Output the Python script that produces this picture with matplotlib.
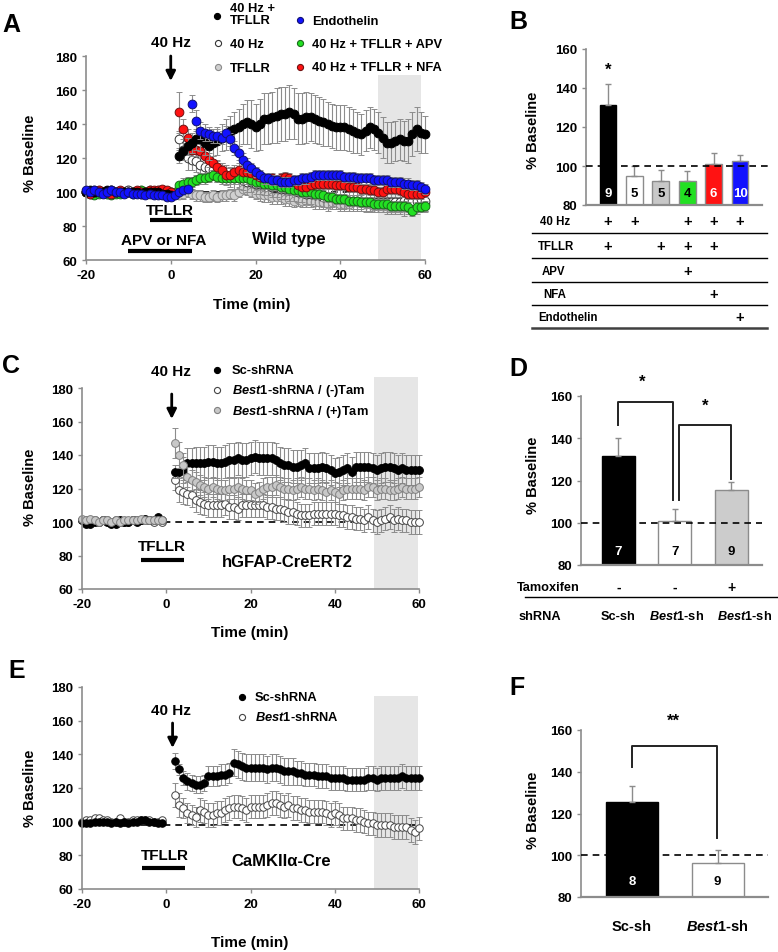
import numpy as np
import matplotlib
matplotlib.use('Agg')
import matplotlib.pyplot as plt
from matplotlib.lines import Line2D
from matplotlib.patches import Rectangle
from matplotlib import transforms

nan = np.nan

# ---------------- panel A (wild type, 1-min bins) ----------------
a_t_base = np.arange(-20, 1)      # -20 .. 0
a_t_post = np.arange(1, 61)       # 1 .. 60
a_base_err = [1, 1, 1, 1, 1, 1, 1, 1, 1, 1, 1, 1, 1, 1, 1, 1, 1, 1, 1, 1, 1]

a_black_base = [100, 101, 100, 100, 100, 101, 101, 100, 100, 100, 100, 100, 100, 99, 100, 100, 100, 100, 99, 99, 98]
a_black_post = [nan, 121, 124, 127, 129, 131, 131, 129, 127, 129,
                130, 132, 134, 136, 137, 138, 140, 141, 140, 138,
                140, 143, 143, 144, 145, 146, 146, 147, 146, 143,
                143, 144, 144, 143, 142, 141, 140, 139, 138, 138,
                138, 137, 136, 135, 134, 136, 138, 137, 135, 132,
                129, 129, 130, 131, 130, 130, 134, 137, 135, 134]
a_black_err = [nan, 4, 5, 5, 6, 6, 7, 7, 8, 8,
               8, 8, 9, 9, 10, 11, 12, 13, 14, 14,
               15, 15, 15, 15, 16, 16, 16, 16, 15, 15,
               15, 15, 14, 14, 14, 14, 13, 13, 13, 13,
               13, 13, 13, 12, 12, 12, 12, 12, 12, 12,
               12, 12, 12, 12, 12, 13, 13, 13, 12, 11]

a_white_base = [100, 100, 101, 100, 100, 100, 101, 100, 100, 100, 101, 100, 100, 100, 100, 101, 100, 100, 100, 100, 100]
a_white_post = [nan, 131, 125, 120, 119, 118, 116, 115, 114, 113,
                112, 111, 110, 109, 108, 108, 107, 106, 106, 105,
                105, 104, 104, 103, 103, 102, 102, 101, 101, 100,
                100, 99, 99, 98, 98, 97, 97, 97, 96, 96,
                96, 95, 95, 95, 95, 94, 94, 94, 94, 94,
                94, 94, 94, 94, 95, 95, 95, 95, 96, 95]
a_white_err = [nan, 5, 5, 7, 6, 6, 6, 6, 6, 6,
               6, 6, 6, 6, 6, 6, 6, 6, 6, 6,
               6, 6, 6, 6, 6, 6, 6, 6, 6, 6,
               6, 6, 6, 6, 6, 6, 6, 6, 6, 6,
               6, 6, 6, 6, 6, 6, 6, 6, 6, 6,
               6, 6, 6, 6, 6, 6, 6, 6, 6, 6]

a_gray_base = [100, 100, 100, 101, 100, 99, 100, 100, 100, 100, 101, 100, 100, 101, 100, 100, 100, 101, 100, 100, 99]
a_gray_post = [99, 98, 99, 100, 99, 98, 98, 97, 97, 98,
               97, 98, 98, 99, 98, 100, 102, 101, 100, 99,
               99, 98, 98, 97, 97, 97, 96, 96, 95, 96,
               95, 95, 95, 94, 94, 94, 93, 94, 94, 93,
               93, 93, 94, 94, 94, 93, 93, 92, 92, 92,
               92, 92, 92, 92, 91, 92, 92, 92, 93, 93]
a_gray_err = [2, 2, 3, 3, 3, 3, 3, 3, 3, 3,
              3, 3, 3, 3, 3, 3, 3, 3, 3, 3,
              4, 4, 4, 4, 4, 4, 4, 4, 4, 4,
              4, 4, 4, 4, 4, 4, 4, 4, 4, 4,
              4, 4, 4, 4, 4, 4, 4, 4, 4, 4,
              5, 5, 5, 5, 5, 5, 5, 5, 5, 5]

a_green_base = [100, 99, 98, 99, 100, 99, 98, 99, 99, 100, 100, 99, 100, 101, 100, 100, 99, 100, 99, 99, 100]
a_green_post = [100, 104, 105, 106, 106, 107, 108, 108, 109, 110,
                109, 108, 108, 108, 108, 108, 108, 108, 107, 106,
                106, 105, 105, 104, 104, 103, 103, 102, 101, 101,
                100, 100, 100, 99, 99, 98, 97, 97, 96, 96,
                96, 95, 95, 95, 94, 94, 94, 93, 93, 93,
                93, 92, 92, 92, 92, 91, 89, 91, 91, 92]
a_green_err = [2, 2, 3, 3, 3, 3, 3, 3, 3, 3,
               3, 3, 3, 3, 3, 3, 3, 3, 3, 3,
               3, 3, 3, 3, 3, 3, 3, 3, 3, 3,
               3, 3, 3, 3, 3, 3, 3, 3, 3, 3,
               3, 3, 3, 3, 3, 3, 3, 3, 3, 3,
               3, 3, 3, 3, 3, 3, 3, 3, 3, 3]

a_red_base = [100, 99, 100, 101, 100, 100, 99, 100, 101, 100, 100, 100, 101, 100, 100, 101, 101, 101, 102, 101, 100]
a_red_post = [nan, 147, 137, 132, 125, 125, 124, 121, 119, 117,
              115, 113, 110, 110, 112, 113, 112, 112, 111, 110,
              109, 108, 108, 108, 107, 108, 109, 108, 107, 104,
              103, 103, 104, 105, 105, 105, 105, 105, 104, 104,
              104, 103, 103, 103, 102, 102, 101, 101, 100, 100,
              102, 102, 102, 101, 100, 99, 99, 99, 99, 100]
a_red_err = [nan, 12, 6, 5, 4, 4, 4, 4, 4, 4,
             4, 4, 4, 4, 4, 4, 4, 4, 3, 3,
             3, 3, 3, 3, 3, 3, 3, 3, 3, 3,
             3, 3, 3, 3, 3, 3, 3, 3, 3, 3,
             3, 3, 3, 3, 3, 3, 3, 3, 3, 3,
             3, 3, 3, 3, 3, 3, 3, 3, 3, 3]

a_blue_base = [101, 100, 101, 100, 99, 100, 101, 100, 100, 99, 100, 99, 99, 99, 98, 99, 98, 98, 98, 97, 97]
a_blue_post = [98, 100, 101, 102, 152, 142, 136, 135, 134, 133,
               133, 132, 135, 131, 126, 123, 119, 116, 114, 112,
               110, 108, 108, 107, 107, 106, 106, 106, 107, 107,
               108, 108, 109, 110, 110, 110, 110, 110, 110, 110,
               109, 109, 109, 108, 108, 108, 108, 107, 107, 107,
               107, 106, 106, 106, 105, 105, 104, 104, 103, 102]
a_blue_err = [1, 1, 1, 1, 5, 6, 5, 5, 4, 4,
              4, 4, 4, 4, 4, 4, 4, 4, 3, 3,
              3, 3, 3, 3, 3, 3, 3, 3, 3, 3,
              3, 3, 3, 3, 3, 3, 3, 3, 3, 3,
              3, 3, 3, 3, 3, 3, 3, 3, 3, 3,
              3, 3, 3, 3, 3, 3, 3, 3, 3, 3]

# ---------------- panel B ----------------
b_vals = [131.5, 95, 92.5, 92.5, 101, 102.5]
b_err = [10.6, 5.2, 5.6, 5.1, 5.7, 3.2]
b_n = ['9', '5', '5', '4', '6', '10']
b_colors = ['black', 'white', '#c8c8c8', '#22e022', '#ff1212', '#1212ff']
b_n_colors = ['white', 'black', 'black', 'black', 'white', 'white']
b_rows = ['40 Hz', 'TFLLR', 'APV', 'NFA', 'Endothelin']
b_plus = [[0, 1, 3, 4, 5], [0, 2, 3, 4], [3], [4], [5]]

# ---------------- panel C (hGFAP-CreERT2) ----------------
c_t_base = np.arange(-20, 0)      # -20 .. -1
c_t_post = np.arange(2, 61)       # 2 .. 60
c_base_err = [1, 1, 1, 1, 1, 1, 1, 1, 1, 1, 1, 1, 1, 1, 1, 1, 1, 1, 1, 1]

c_black_base = [101, 99, 99, 100, 100, 101, 100, 99, 99, 101, 100, 100, 101, 100, 101, 102, 101, 101, 103, 101]
c_black_post = [130, 130, 131, 135, 135, 135, 135, 135, 136, 136,
                135, 135, 136, 137, 137, 138, 137, 137, 138, 139,
                138, 138, 138, 138, 137, 135, 134, 134, 133, 133,
                134, 135, 132, 132, 132, 133, 132, 131, 129, 130,
                131, 132, 130, 133, 133, 133, 133, 132, 131, 132,
                133, 133, 132, 131, 132, 131, 131, 131, 131]
c_black_err = [4, 4, 8, 9, 9, 10, 10, 10, 10, 10,
               10, 10, 10, 10, 10, 10, 10, 10, 10, 10,
               10, 10, 10, 10, 10, 10, 10, 10, 10, 10,
               9, 9, 9, 9, 9, 9, 9, 9, 9, 9,
               9, 9, 9, 9, 9, 9, 9, 9, 9, 9,
               9, 9, 9, 9, 9, 9, 9, 9, 9]

c_white_base = [101, 101, 101, 101, 100, 101, 101, 100, 101, 100, 100, 100, 101, 101, 101, 101, 101, 100, 101, 100]
c_white_post = [125, 119, 118, 117, 116, 113, 112, 111, 110, 110,
                110, 110, 111, 109, 109, 108, 110, 110, 110, 110,
                110, 110, 109, 109, 108, 108, 107, 106, 106, 105,
                104, 104, 104, 105, 105, 105, 105, 105, 105, 104,
                104, 103, 103, 102, 102, 101, 103, 101, 100, 101,
                102, 103, 101, 102, 101, 101, 100, 100, 100]
c_white_err = [6, 7, 7, 7, 7, 7, 7, 7, 7, 7,
               7, 7, 7, 7, 7, 7, 7, 7, 7, 7,
               7, 7, 7, 7, 7, 7, 7, 7, 7, 7,
               7, 7, 7, 7, 7, 7, 7, 7, 7, 7,
               7, 7, 7, 7, 7, 7, 7, 7, 7, 7,
               7, 7, 7, 7, 7, 7, 7, 7, 7]

c_gray_base = [102, 101, 102, 101, 100, 101, 101, 100, 101, 100, 101, 101, 101, 101, 102, 101, 101, 101, 101, 101]
c_gray_post = [147, 140, 134, 127, 125, 124, 122, 121, 120, 121,
               120, 119, 119, 120, 120, 121, 120, 119, 119, 117,
               118, 120, 121, 121, 122, 121, 120, 120, 119, 120,
               121, 120, 120, 119, 120, 119, 118, 119, 118, 117,
               119, 120, 120, 120, 120, 119, 121, 121, 119, 120,
               120, 119, 119, 120, 121, 120, 120, 120, 121]
c_gray_err = [9, 8, 7, 6, 6, 6, 6, 6, 6, 6,
              6, 6, 6, 6, 6, 6, 6, 6, 6, 6,
              6, 6, 6, 6, 6, 6, 6, 6, 6, 6,
              6, 6, 6, 6, 6, 6, 6, 6, 6, 6,
              6, 6, 6, 6, 6, 6, 6, 6, 6, 6,
              6, 6, 6, 6, 6, 6, 6, 6, 6]

# ---------------- panel D ----------------
d_vals = [131.5, 100.8, 115.6]
d_err = [8.6, 5.6, 3.8]
d_n = ['7', '7', '9']
d_colors = ['black', 'white', '#cccccc']
d_n_colors = ['white', 'black', 'black']
d_tamoxifen = ['-', '-', '+']
d_shrna = ['Sc-sh', r'$\it{Best1}$-sh', r'$\it{Best1}$-sh']

# ---------------- panel E (CaMKIIa-Cre) ----------------
e_t_base = np.arange(-20, 0)
e_t_post = np.arange(2, 61)
e_base_err = [1, 1, 1, 1, 1, 1, 1, 1, 1, 1, 1, 1, 1, 1, 1, 1, 1, 1, 1, 1]

e_black_base = [99, 99, 99, 100, 100, 100, 100, 99, 100, 99, 100, 99, 100, 100, 101, 101, 100, 100, 99, 99]
e_black_post = [136, 131, 126, 124, 123, 122, 122, 123, 127, 127,
                127, 128, 128, 129, 135, 134, 133, 132, 132, 132,
                132, 132, 131, 132, 132, 131, 130, 130, 130, 129,
                129, 128, 128, 128, 127, 127, 127, 126, 126, 126,
                126, 125, 125, 125, 125, 125, 126, 126, 125, 126,
                126, 126, 126, 126, 127, 126, 126, 126, 126]
e_black_err = [5, 3, 4, 5, 5, 5, 5, 5, 6, 6,
               6, 6, 6, 6, 8, 8, 8, 8, 8, 8,
               8, 8, 8, 8, 8, 8, 8, 8, 8, 7,
               7, 7, 7, 7, 7, 7, 7, 7, 7, 7,
               7, 7, 7, 7, 7, 7, 7, 7, 7, 7,
               7, 7, 7, 7, 7, 7, 7, 7, 7]

e_white_base = [100, 101, 101, 102, 102, 101, 101, 100, 100, 102, 100, 100, 101, 101, 101, 101, 101, 100, 100, 101]
e_white_post = [116, 110, 108, 105, 104, 103, 107, 106, 104, 104,
                105, 105, 107, 108, 109, 109, 108, 107, 109, 109,
                109, 109, 110, 111, 111, 110, 109, 110, 108, 108,
                107, 107, 106, 106, 106, 106, 105, 104, 105, 104,
                102, 102, 102, 101, 101, 100, 99, 99, 98, 98,
                98, 98, 97, 97, 97, 97, 95, 94, 96]
e_white_err = [7, 7, 6, 6, 6, 6, 7, 7, 7, 7,
               7, 7, 7, 7, 7, 7, 7, 7, 7, 7,
               7, 7, 7, 7, 7, 7, 7, 7, 7, 7,
               7, 7, 7, 7, 7, 7, 7, 7, 7, 7,
               7, 7, 7, 7, 7, 7, 7, 7, 7, 7,
               7, 7, 7, 7, 7, 7, 7, 7, 7]

# ---------------- panel F ----------------
f_vals = [125.7, 96.1]
f_err = [7.3, 6.4]
f_n = ['8', '9']
f_colors = ['black', 'white']
f_n_colors = ['white', 'black']
f_labels = ['Sc-sh', r'$\it{Best1}$-sh']

# ---------------- style ----------------
plt.rcParams['font.family'] = ['Liberation Sans', 'DejaVu Sans']
plt.rcParams['font.weight'] = 'bold'
plt.rcParams['axes.unicode_minus'] = False
plt.rcParams['mathtext.fontset'] = 'custom'
plt.rcParams['mathtext.it'] = 'Liberation Sans:italic:bold'
plt.rcParams['mathtext.rm'] = 'Liberation Sans:bold'
plt.rcParams['mathtext.bf'] = 'Liberation Sans:bold'

W, H = 778, 953
SPINE = '#8c8c8c'
ECOL = '#8c8c8c'
SHADE = '#e6e6e6'

fig = plt.figure(figsize=(W / 100, H / 100), dpi=100)
fig.patch.set_facecolor('white')


def fx(px):
    return px / W


def fy(py):
    return 1 - py / H


def add_ax(l, t, r, b):
    return fig.add_axes([l / W, 1 - b / H, (r - l) / W, (b - t) / H])


def style(ax):
    for s in ('top', 'right'):
        ax.spines[s].set_visible(False)
    for s in ('left', 'bottom'):
        ax.spines[s].set_color(SPINE)
        ax.spines[s].set_linewidth(1.2)
    ax.tick_params(colors=SPINE, labelcolor='black', labelsize=9.5,
                   length=3, width=1)
    ax.set_facecolor('none')


def ftext(px, py, s, **kw):
    kw.setdefault('ha', 'center')
    kw.setdefault('va', 'center')
    fig.text(fx(px), fy(py), s, **kw)


def fmarker(px, py, mfc, mec, ms):
    fig.add_artist(Line2D([fx(px)], [fy(py)], transform=fig.transFigure,
                          marker='o', ls='none', ms=ms, mfc=mfc, mec=mec,
                          mew=0.8))


def series(ax, tb, yb, eb, tp, yp, ep, mfc, mec, ms, z):
    t = np.concatenate([tb, tp])
    y = np.concatenate([np.asarray(yb, float), np.asarray(yp, float)])
    e = np.concatenate([np.asarray(eb, float), np.asarray(ep, float)])
    cont = ax.errorbar(t, y, yerr=e, fmt='o', ms=ms, mfc=mfc, mec=mec,
                       mew=0.7, ecolor=ECOL, elinewidth=0.8, capsize=2,
                       capthick=0.8, zorder=z)
    for art in cont.get_children():
        art.set_clip_on(False)


def time_axes(ax):
    style(ax)
    ax.set_xlim(-20, 60)
    ax.set_ylim(60, 180)
    ax.set_xticks([-20, 0, 20, 40, 60])
    ax.set_yticks([60, 80, 100, 120, 140, 160, 180])


def arrow(ax, x, y0, y1):
    ax.annotate('', xy=(x, y1), xytext=(x, y0), annotation_clip=False,
                arrowprops=dict(arrowstyle='-|>', color='black', lw=2,
                                mutation_scale=14, shrinkA=0, shrinkB=0))


def bar_panel(ax, vals, errs, colors, ncols, labels, nlab_y, width, edge):
    x = np.arange(len(vals))
    ax.bar(x, np.array(vals) - 80, width, bottom=80, color=colors,
           edgecolor=edge, linewidth=1, zorder=2)
    ax.errorbar(x, vals, yerr=[np.zeros(len(vals)), errs], fmt='none',
                ecolor=ECOL, elinewidth=1, capsize=2.5, capthick=1, zorder=3)
    for xi, s, c in zip(x, labels, ncols):
        ax.text(xi, nlab_y, s, color=c, ha='center', va='center',
                fontsize=9.5, zorder=5)
    style(ax)
    ax.set_ylim(80, 160)
    ax.set_yticks([80, 100, 120, 140, 160])
    ax.set_xticks([])
    ax.spines['bottom'].set_linewidth(1.6)


# ================= A =================
axA = add_ax(86, 57, 425, 261)
time_axes(axA)
axA.add_patch(Rectangle((48.9, 60), 10.1, 108.6, color=SHADE, zorder=0, lw=0))
axA.plot([-20, 60], [100, 100], ls=(0, (4, 3)), color='black', lw=1.2, zorder=1.5)
MA = 6.3
series(axA, a_t_base, a_gray_base, a_base_err, a_t_post, a_gray_post, a_gray_err,
       '#d0d0d0', '#8a8a8a', MA, 2.0)
series(axA, a_t_base, a_white_base, a_base_err, a_t_post, a_white_post, a_white_err,
       'white', '#333333', MA, 2.1)
series(axA, a_t_base, a_green_base, a_base_err, a_t_post, a_green_post, a_green_err,
       '#22e022', '#1a6a1a', MA, 2.2)
series(axA, a_t_base, a_red_base, a_base_err, a_t_post, a_red_post, a_red_err,
       '#ff1212', '#701010', MA, 2.3)
series(axA, a_t_base, a_black_base, a_base_err, a_t_post, a_black_post, a_black_err,
       'black', 'black', MA, 2.4)
series(axA, a_t_base, a_blue_base, a_base_err, a_t_post, a_blue_post, a_blue_err,
       '#1212ff', '#101070', MA, 2.5)

axA.text(0, 188.2, '40 Hz', ha='center', va='center', fontsize=11)
arrow(axA, 0, 180, 165.3)
axA.text(-0.2, 89.4, 'TFLLR', ha='center', va='center', fontsize=11)
axA.plot([-5, 5], [83.5, 83.5], color='black', lw=3, solid_capstyle='butt')
axA.text(-1.6, 71.8, 'APV or NFA', ha='center', va='center', fontsize=11)
axA.plot([-10, 5], [65.3, 65.3], color='black', lw=3, solid_capstyle='butt')
axA.text(27.9, 72.4, 'Wild type', ha='center', va='center', fontsize=12)

ftext(252, 305, 'Time (min)', fontsize=11)
ftext(30, 153, '% Baseline', fontsize=10.5, rotation=90)
ftext(11, 25, 'A', fontsize=18)

fmarker(217, 17, 'black', 'black', 4.4)
ftext(230, 15, '40 Hz +\nTFLLR', ha='left', fontsize=9.3, linespacing=1.05)
fmarker(218, 44, 'white', '#333333', 4.4)
ftext(230, 45, '40 Hz', ha='left', fontsize=9.3)
fmarker(218, 68, '#d0d0d0', '#8a8a8a', 4.4)
ftext(230, 69, 'TFLLR', ha='left', fontsize=9.3)
fmarker(300, 21, '#1212ff', '#101070', 4.4)
ftext(312, 22, 'Endothelin', ha='left', fontsize=9.3)
fmarker(300, 44, '#22e022', '#1a6a1a', 4.4)
ftext(312, 45, '40 Hz + TFLLR + APV', ha='left', fontsize=9.3)
fmarker(300, 68, '#ff1212', '#701010', 4.4)
ftext(312, 68, '40 Hz + TFLLR + NFA', ha='left', fontsize=9.3)

# ================= B =================
axB = add_ax(586, 50, 762, 206)
bar_panel(axB, b_vals, b_err, b_colors, b_n_colors, b_n, 86.2, 0.64,
          ['black', SPINE, SPINE, SPINE, SPINE, SPINE])
axB.set_xlim(-0.833, 5.833)
axB.plot([-0.833, 6.1], [100, 100], ls=(0, (4, 3)), color='black', lw=1.2,
         zorder=4, clip_on=False)
axB.text(0, 149.7, '*', ha='center', va='center', fontsize=12)
ftext(533, 130, '% Baseline', fontsize=10.5, rotation=90)
ftext(518, 22, 'B', fontsize=18)

trB = transforms.blended_transform_factory(axB.transData, fig.transFigure)
row_y = [222, 247, 272, 295, 318]
row_x = [540, 538, 542, 543, 538]
line_y = [234, 259, 283, 306]
for name, ry, rx, plus in zip(b_rows, row_y, row_x, b_plus):
    ftext(rx, ry, name, ha='left', fontsize=8.3)
    for p in plus:
        axB.text(p, fy(ry), '+', transform=trB, ha='center', va='center',
                 fontsize=10.5)
for ly in line_y:
    fig.add_artist(Line2D([fx(532), fx(767)], [fy(ly), fy(ly)],
                          transform=fig.transFigure, color='black', lw=1))
fig.add_artist(Line2D([fx(532), fx(767)], [fy(329), fy(329)],
                      transform=fig.transFigure, color='#404040', lw=1.8))

# ================= C =================
axC = add_ax(82, 389, 419, 590)
time_axes(axC)
axC.add_patch(Rectangle((49.3, 60), 10.4, 126.6, color=SHADE, zorder=0, lw=0,
                        clip_on=False))
axC.plot([-20, 60], [100, 100], ls=(0, (4, 3)), color='black', lw=1.2, zorder=1.5)
MC = 5.6
series(axC, c_t_base, c_white_base, c_base_err, c_t_post, c_white_post, c_white_err,
       'white', '#444444', MC, 2.0)
series(axC, c_t_base, c_black_base, c_base_err, c_t_post, c_black_post, c_black_err,
       'black', 'black', MC, 2.1)
series(axC, c_t_base, c_gray_base, c_base_err, c_t_post, c_gray_post, c_gray_err,
       '#c8c8c8', '#808080', MC, 2.2)

axC.text(1.1, 190.1, '40 Hz', ha='center', va='center', fontsize=11, clip_on=False)
arrow(axC, 1.3, 176.4, 161.5)
axC.text(-1, 85.7, 'TFLLR', ha='center', va='center', fontsize=11)
axC.plot([-6, 4.2], [77.3, 77.3], color='black', lw=3, solid_capstyle='butt')
axC.text(28.7, 76.7, 'hGFAP-CreERT2', ha='center', va='center', fontsize=12)

ftext(250, 633, 'Time (min)', fontsize=11)
ftext(30, 487, '% Baseline', fontsize=10.5, rotation=90)
ftext(11, 366, 'C', fontsize=18)

fmarker(217, 371, 'black', 'black', 4.4)
ftext(232, 371, 'Sc-shRNA', ha='left', fontsize=9.3)
fmarker(217, 391, 'white', '#444444', 4.4)
ftext(232, 391, r'$\it{Best1}$-shRNA / (-)Tam', ha='left', fontsize=9.3)
fmarker(217, 411, '#c8c8c8', '#808080', 4.4)
ftext(232, 412, r'$\it{Best1}$-shRNA / (+)Tam', ha='left', fontsize=9.3)

# ================= D =================
axD = add_ax(581, 397, 762, 566)
bar_panel(axD, d_vals, d_err, d_colors, d_n_colors, d_n, 86.8, 0.58,
          ['black', SPINE, SPINE])
axD.set_xlim(-0.66, 2.54)
axD.plot([-0.66, 2.54], [100, 100], ls=(0, (4, 3)), color='black', lw=1.2,
         zorder=4, clip_on=False)
axD.plot([0, 0, 0.96, 0.96], [146.4, 157.3, 157.3, 110.8], color='#222222',
         lw=1.4, clip_on=False)
axD.plot([1.08, 1.08, 2.0, 2.0], [110.8, 146.4, 146.4, 120.7], color='#222222',
         lw=1.4, clip_on=False)
axD.text(0.43, 167.2, '*', ha='center', va='center', fontsize=12, clip_on=False)
axD.text(1.53, 155.7, '*', ha='center', va='center', fontsize=12, clip_on=False)
ftext(533, 475, '% Baseline', fontsize=10.5, rotation=90)
ftext(518, 369, 'D', fontsize=18)

trD = transforms.blended_transform_factory(axD.transData, fig.transFigure)
ftext(548, 588, 'Tamoxifen', fontsize=9.2)
ftext(540, 617, 'shRNA', fontsize=9.2)
for i, s in enumerate(d_tamoxifen):
    axD.text(i, fy(588), s, transform=trD, ha='center', va='center', fontsize=10)
shrna_x = [618, 677, 745]
for px, s in zip(shrna_x, d_shrna):
    ftext(px, 617, s, fontsize=9.2)
fig.add_artist(Line2D([fx(525), fx(778)], [fy(598), fy(598)],
                      transform=fig.transFigure, color='black', lw=1))

# ================= E =================
axE = add_ax(82, 688, 419, 890)
time_axes(axE)
axE.add_patch(Rectangle((49.4, 60), 10.3, 114.7, color=SHADE, zorder=0, lw=0))
axE.plot([-20, 60], [98, 98], ls=(0, (4, 3)), color='black', lw=1.2, zorder=1.5)
ME = 5.4
series(axE, e_t_base, e_white_base, e_base_err, e_t_post, e_white_post, e_white_err,
       'white', '#444444', ME, 2.0)
series(axE, e_t_base, e_black_base, e_base_err, e_t_post, e_black_post, e_black_err,
       'black', 'black', ME, 2.1)

axE.text(1.1, 166.4, '40 Hz', ha='center', va='center', fontsize=11)
arrow(axE, 1.5, 158.6, 143.8)
axE.text(-0.3, 80.2, 'TFLLR', ha='center', va='center', fontsize=11)
axE.plot([-5.8, 4.4], [72.5, 72.5], color='black', lw=3, solid_capstyle='butt')
axE.text(27.2, 77.2, 'CaMKIIα-Cre', ha='center', va='center', fontsize=12)

ftext(250, 943, 'Time (min)', fontsize=11)
ftext(30, 788, '% Baseline', fontsize=10.5, rotation=90)
ftext(17, 671, 'E', fontsize=18)

fmarker(242, 698, 'black', 'black', 4.4)
ftext(255, 698, 'Sc-shRNA', ha='left', fontsize=9.3)
fmarker(242, 718, 'white', '#444444', 4.4)
ftext(255, 718, r'$\it{Best1}$-shRNA', ha='left', fontsize=9.3)

# ================= F =================
axF = add_ax(581, 731, 768, 898)
bar_panel(axF, f_vals, f_err, f_colors, f_n_colors, f_n, 87.7, 0.61,
          ['black', SPINE])
axF.set_xlim(-0.6, 1.59)
axF.plot([-0.6, 1.59], [100, 100], ls=(0, (4, 3)), color='black', lw=1.2,
         zorder=4, clip_on=False)
axF.plot([0, 0, 0.99, 0.99], [142.2, 152.5, 152.5, 108.2], color='#222222',
         lw=1.4, clip_on=False)
axF.text(0.48, 164.5, '**', ha='center', va='center', fontsize=12, clip_on=False)
ftext(533, 810, '% Baseline', fontsize=10.5, rotation=90)
ftext(517, 688, 'F', fontsize=18)
for px, s in zip([632, 717], f_labels):
    ftext(px, 927, s, fontsize=10.5)

fig.savefig('out.png', dpi=100, facecolor='white')
